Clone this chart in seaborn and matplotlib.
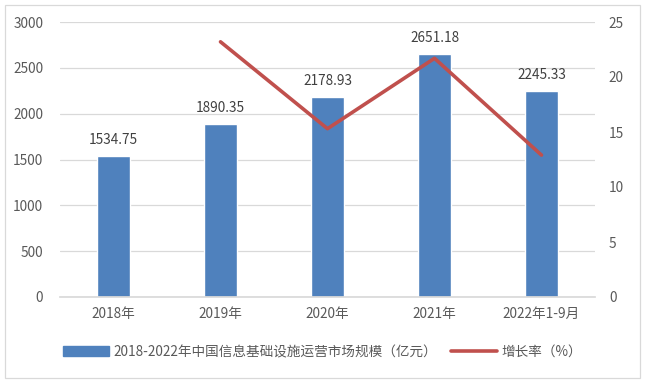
import matplotlib
matplotlib.use("Agg")
import matplotlib.pyplot as plt
from matplotlib.patches import Rectangle
from matplotlib.lines import Line2D
import seaborn as sns
import pandas as pd

categories = ["2018年", "2019年", "2020年", "2021年", "2022年1-9月"]
market_size = [1534.75, 1890.35, 2178.93, 2651.18, 2245.33]
growth_rate = [None, 23.2, 15.3, 21.7, 12.9]
bar_label = "2018-2022年中国信息基础设施运营市场规模（亿元）"
line_label = "增长率（%）"

sns.set_theme(style="white")
plt.rcParams['font.family'] = ['Noto Sans CJK SC', 'DejaVu Sans']

txt = "#595959"
bar_color = "#4F81BD"
line_color = "#C0504D"
fs = 9.8

fig = plt.figure(figsize=(6.45, 3.86), dpi=100)
ax = fig.add_axes([60/645, 1-297/386, 535/645, 275/386])

df = pd.DataFrame({"cat": categories, "size": market_size, "rate": growth_rate})
sns.barplot(data=df, x="cat", y="size", color=bar_color, width=0.31, ax=ax, saturation=1)
ax.set_ylim(0, 3000)
ax.set_xlim(-0.5, 4.5)
ax.set_yticks(range(0, 3001, 500))
ax.yaxis.grid(True, color="#D9D9D9", lw=0.9)
ax.set_axisbelow(True)
for s in ["top", "right", "left"]:
    ax.spines[s].set_visible(False)
ax.spines["bottom"].set_color("#D9D9D9")
ax.set_xlabel("")
ax.set_ylabel("")
ax.tick_params(axis="both", colors=txt, labelsize=fs, length=0)
ax.tick_params(axis="y", pad=12)
ax.tick_params(axis="x", pad=7)
for i, v in enumerate(market_size):
    ax.text(i, v + 100, f"{v:.2f}", ha="center", va="bottom", color="#404040", fontsize=fs)

ax2 = ax.twinx()
x_idx = [i for i, r in enumerate(growth_rate) if r is not None]
y_rate = [r for r in growth_rate if r is not None]
sns.lineplot(x=x_idx, y=y_rate, color=line_color, lw=2.6, ax=ax2)
ax2.set_ylim(0, 25)
ax2.set_yticks(range(0, 26, 5))
ax2.set_xlim(-0.5, 4.5)
for s in ["top", "right", "left", "bottom"]:
    ax2.spines[s].set_visible(False)
ax2.tick_params(axis="y", colors=txt, labelsize=fs, length=0, pad=10)
ax2.set_ylabel("")
ax2.grid(False)

handles = [Rectangle((0, 0), 1, 1, color=bar_color),
           Line2D([0], [0], color=line_color, lw=2.6)]
fig.legend(handles, [bar_label, line_label], loc="center", bbox_to_anchor=(0.5, 1-352/386),
           ncol=2, frameon=False, fontsize=fs, labelcolor=txt, handlelength=3.4,
           handleheight=0.7, columnspacing=1.0, handletextpad=0.3)

border = Rectangle((5/645, 1-378/386), 635/645, 373/386, transform=fig.transFigure,
                   fill=False, edgecolor="#D9D9D9", lw=0.9)
fig.patches.append(border)

fig.savefig("out.png", dpi=100)
